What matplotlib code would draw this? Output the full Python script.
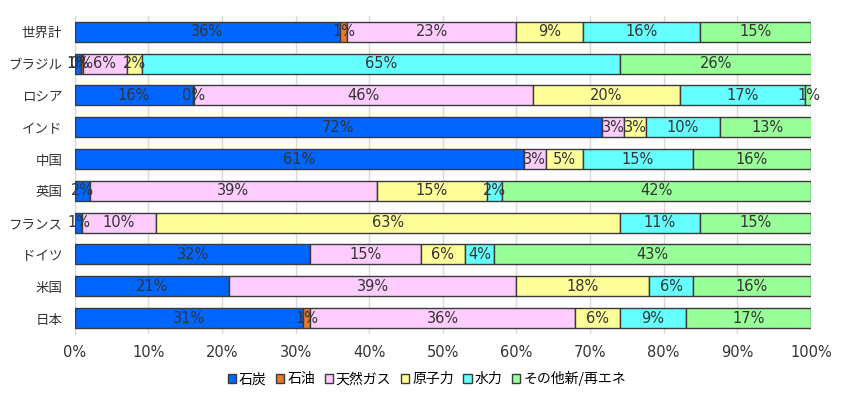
import numpy as np
import matplotlib
matplotlib.use('Agg')
import matplotlib.pyplot as plt

plt.rcParams['font.family'] = ['DejaVu Sans', 'Noto Sans CJK JP']

countries = ['世界計', 'ブラジル', 'ロシア', 'インド', '中国', '英国', 'フランス', 'ドイツ', '米国', '日本']
sources = ['石炭', '石油', '天然ガス', '原子力', '水力', 'その他新/再エネ']
colors = ['#0066FF', '#E8782A', '#FFCCFF', '#FFFF99', '#66FFFF', '#99FF99']

coal    = [36, 0.8, 16, 71.6, 61, 2, 1, 32, 21, 31]
oil     = [1, 0.3, 0.2, 0, 0, 0, 0, 0, 0, 1]
gas     = [23, 6, 46, 3, 3, 39, 10, 15, 39, 36]
nuclear = [9, 2, 20, 3, 5, 15, 63, 6, 18, 6]
hydro   = [16, 65, 17, 10, 15, 2, 11, 4, 6, 9]
other   = [15, 26, 1, 13, 16, 42, 15, 43, 16, 17]

data = np.array([coal, oil, gas, nuclear, hydro, other])

fig, ax = plt.subplots(figsize=(8.5, 3.99), dpi=100)
fig.subplots_adjust(left=0.088, right=0.954, top=0.96, bottom=0.163)

y = np.arange(len(countries))
left = np.zeros(len(countries))
for i, src in enumerate(sources):
    vals = data[i]
    ax.barh(y, vals, left=left, height=0.63, color=colors[i],
            edgecolor='#3a3a3a', linewidth=1.0, label=src, zorder=3)
    for j, v in enumerate(vals):
        if v > 0:
            ax.text(left[j] + v / 2, y[j], '%d%%' % round(v), ha='center', va='center',
                    fontsize=10.5, color='#333333', zorder=4)
    left += vals

ax.set_xlim(0, 100)
ax.set_ylim(len(countries) - 0.5, -0.5)
ax.set_yticks(y)
ax.set_yticklabels(countries, fontsize=9.7, family='Noto Sans CJK JP')
ax.set_xticks(np.arange(0, 101, 10))
ax.set_xticklabels(['%d%%' % t for t in range(0, 101, 10)], fontsize=10.5)
ax.tick_params(axis='y', length=0, pad=9, colors='#333333')
ax.tick_params(axis='x', length=0, pad=8, colors='#333333')
ax.grid(axis='x', color='#d9d9d9', linewidth=1, zorder=0)
for s in ['top', 'right', 'bottom']:
    ax.spines[s].set_visible(False)
ax.spines['left'].set_color('#d9d9d9')

ax.legend(loc='upper center', bbox_to_anchor=(0.478, -0.10), ncol=6, frameon=False,
          prop={'family': 'Noto Sans CJK JP', 'size': 10},
          handlelength=0.6, handleheight=0.6, handletextpad=0.2,
          columnspacing=0.7, borderaxespad=0)

fig.savefig('out.png', dpi=100)
